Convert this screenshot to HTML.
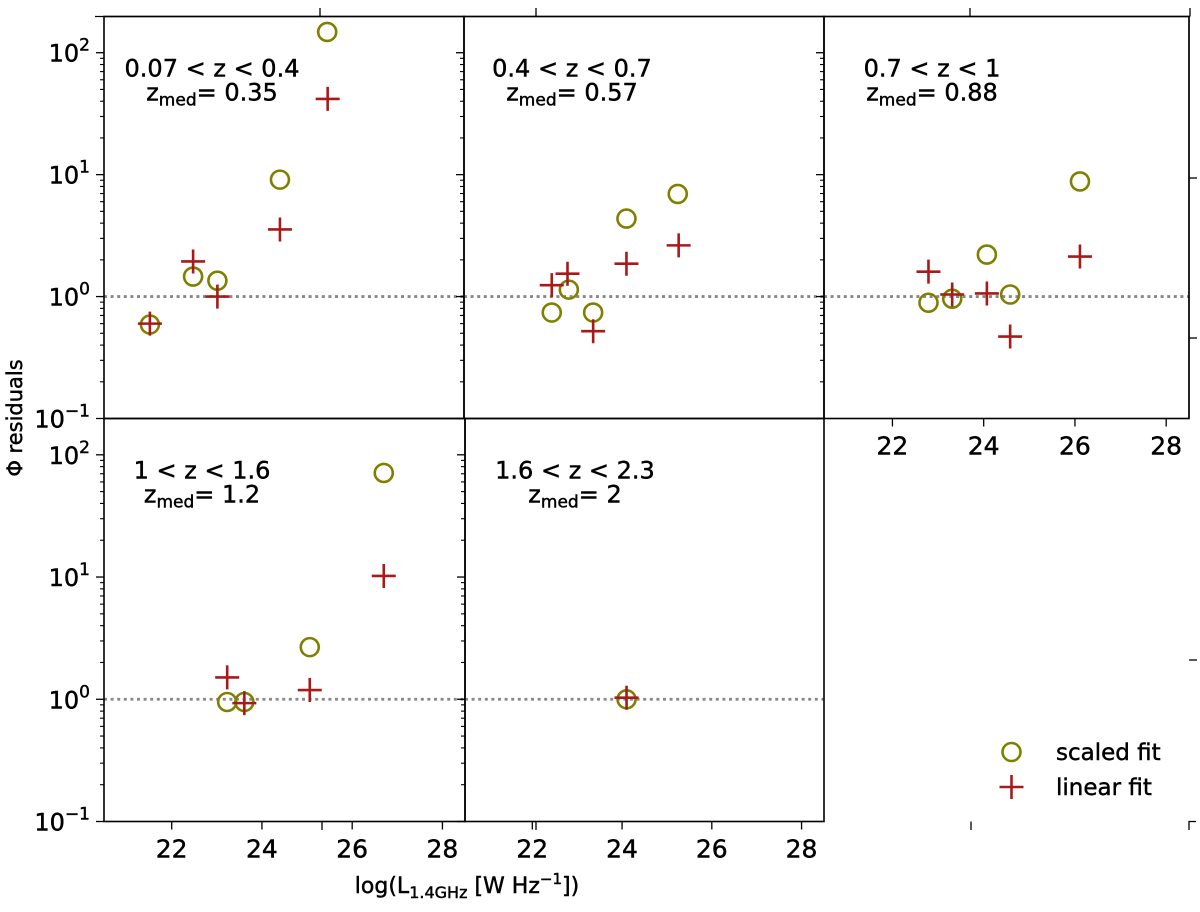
<!DOCTYPE html>
<html><head><meta charset="utf-8"><style>
html,body{margin:0;padding:0;background:#fff}
svg{display:block;font-family:"DejaVu Sans","Liberation Sans",sans-serif}
svg text{stroke:#000;stroke-width:0.45px}
</style></head><body>
<svg id="chart" width="1200" height="912" viewBox="0 0 1200 912" xmlns="http://www.w3.org/2000/svg"></svg>
<script>
const xTicks = [22, 24, 26, 28];
const xTickLabels = ["22", "24", "26", "28"];
const yDecades = [-1, 0, 1, 2];
const yTickLabels = ["10", "10", "10", "10"];
const yTickExps = ["\u22121", "0", "1", "2"];
const panelLabels = ["0.07 < z < 0.4", "0.4 < z < 0.7", "0.7 < z < 1", "1 < z < 1.6", "1.6 < z < 2.3"];
const panelZmed = ["0.35", "0.57", "0.88", "1.2", "2"];
const p1ScaledX = [21.52, 22.48, 23.02, 24.41, 25.46];
const p1ScaledY = [0.59, 1.46, 1.35, 9.1, 148];
const p1LinearX = [21.52, 22.48, 23.02, 24.41, 25.47];
const p1LinearY = [0.6, 1.94, 1.0, 3.55, 41.8];
const p2ScaledX = [22.45, 22.83, 23.37, 24.11, 25.25];
const p2ScaledY = [0.74, 1.14, 0.74, 4.36, 6.95];
const p2LinearX = [22.45, 22.80, 23.37, 24.11, 25.27];
const p2LinearY = [1.24, 1.54, 0.52, 1.86, 2.63];
const p3ScaledX = [22.79, 23.31, 24.07, 24.58, 26.11];
const p3ScaledY = [0.89, 0.96, 2.21, 1.04, 8.8];
const p3LinearX = [22.79, 23.31, 24.07, 24.58, 26.11];
const p3LinearY = [1.6, 1.04, 1.06, 0.47, 2.13];
const p4ScaledX = [23.23, 23.61, 25.06, 26.7];
const p4ScaledY = [0.95, 0.95, 2.67, 71];
const p4LinearX = [23.23, 23.61, 25.06, 26.7];
const p4LinearY = [1.51, 0.93, 1.19, 10.2];
const p5ScaledX = [24.1];
const p5ScaledY = [1.0];
const p5LinearX = [24.1];
const p5LinearY = [1.03];

const NS = "http://www.w3.org/2000/svg";
const svg = document.getElementById('chart');
function mk(tag, attrs, parent) {
  const e = document.createElementNS(NS, tag);
  for (const k in attrs) e.setAttribute(k, attrs[k]);
  (parent || svg).appendChild(e);
  return e;
}
const X0 = 20.5, X1 = 28.5, YMIN = -1, YMAX = 2.297;
const panels = [
  {x: 104, y: 16.5, w: 360, h: 402, lc: 108, sx: p1ScaledX, sy: p1ScaledY, lx: p1LinearX, ly: p1LinearY, xl: false},
  {x: 464, y: 16.5, w: 360, h: 402, lc: 108, sx: p2ScaledX, sy: p2ScaledY, lx: p2LinearX, ly: p2LinearY, xl: false},
  {x: 824, y: 16.5, w: 365, h: 402, lc: 108, sx: p3ScaledX, sy: p3ScaledY, lx: p3LinearX, ly: p3LinearY, xl: true},
  {x: 104, y: 418.5, w: 361, h: 403, lc: 98, sx: p4ScaledX, sy: p4ScaledY, lx: p4LinearX, ly: p4LinearY, xl: true},
  {x: 465, y: 418.5, w: 359, h: 403, lc: 110, sx: p5ScaledX, sy: p5ScaledY, lx: p5LinearX, ly: p5LinearY, xl: true}
];
const OLIVE = "#808000", RED = "#a81a1a";

panels.forEach((p, i) => {
  const g = mk('g', {});
  
  
  const xs = v => p.x + (v - X0) / (X1 - X0) * p.w;
  const ys = v => p.y + p.h - (Math.log10(v) - YMIN) / (YMAX - YMIN) * p.h;
  const ref = mk('line', {x1: p.x, x2: p.x + p.w, y1: ys(1), y2: ys(1), stroke: '#888', 'stroke-width': 2.8, 'stroke-dasharray': '3,3.6'}, g);
  
  
  yDecades.forEach((d, k) => {
    const yy = ys(Math.pow(10, d));
    mk('line', {x1: p.x - 8, x2: p.x, y1: yy, y2: yy, stroke: '#000', 'stroke-width': 1.3}, g);
    if (d < 2) for (let m = 2; m <= 9; m++) {
      const ym = ys(m * Math.pow(10, d));
      if (ym >= p.y) mk('line', {x1: p.x - 4, x2: p.x, y1: ym, y2: ym, stroke: '#000', 'stroke-width': 1.1}, g);
    }
    if (i === 0 || i === 3) {
      const t = mk('text', {x: 90, y: yy + 9, 'text-anchor': 'end', 'font-size': 24}, g);
      
      
      t.textContent = yTickLabels[k];
      const s = mk('tspan', {dy: -11, 'font-size': 17}, t);
      s.textContent = yTickExps[k];
    }
  });
  if (p.xl) xTicks.forEach((v, k) => {
    const xx = xs(v);
    mk('line', {x1: xx, x2: xx, y1: p.y + p.h, y2: p.y + p.h + 8, stroke: '#000', 'stroke-width': 1.3}, g);
    const t = mk('text', {x: xx, y: p.y + p.h + 36, 'text-anchor': 'middle', 'font-size': 25}, g);
    
    
    t.textContent = xTickLabels[k];
  });
  const fr = mk('rect', {x: p.x, y: p.y, width: p.w, height: p.h, fill: 'none', stroke: '#000', 'stroke-width': 1.6}, g);
  
  
  const cx = p.x + p.lc;
  const t1 = mk('text', {x: cx, y: p.y + 60, 'text-anchor': 'middle', 'font-size': 24}, g);
  
  
  t1.textContent = panelLabels[i];
  const t2 = mk('text', {x: cx, y: p.y + 84, 'text-anchor': 'middle', 'font-size': 24}, g);
  
  
  const a = mk('tspan', {}, t2); a.textContent = 'z';
  const b = mk('tspan', {dy: 5, 'font-size': 17}, t2); b.textContent = 'med';
  const c = mk('tspan', {dy: -5}, t2); c.textContent = '= ' + panelZmed[i];
  p.sx.forEach((v, k) => {
    const m = mk('circle', {cx: xs(v), cy: ys(p.sy[k]), r: 9, fill: 'none', stroke: OLIVE, 'stroke-width': 2.6}, g);
    
    
  });
  p.lx.forEach((v, k) => {
    const px = xs(v), py = ys(p.ly[k]);
    const m = mk('path', {d: `M${px-12},${py}H${px+12}M${px},${py-12}V${py+12}`, stroke: RED, 'stroke-width': 2.6, fill: 'none'}, g);
    
    
  });
});

const ov = mk('g', {stroke: '#000', 'stroke-width': 1.3});


mk('line', {x1: 95, x2: 1190, y1: 16.5, y2: 16.5}, ov);
mk('line', {x1: 1189, x2: 1189, y1: 16.5, y2: 418}, ov);
[320, 536, 970, 1190].forEach(x => mk('line', {x1: x, x2: x, y1: 16.5, y2: 8}, ov));
[178, 338, 660].forEach(y => mk('line', {x1: 1189, x2: 1197, y1: y, y2: y}, ov));
mk('line', {x1: 1189, x2: 1189, y1: 821, y2: 830}, ov);
mk('line', {x1: 1189, x2: 1196, y1: 821.5, y2: 821.5}, ov);
[322, 536, 971].forEach(x => mk('line', {x1: x, x2: x, y1: 821.5, y2: 830}, ov));

const yt = mk('text', {x: 0, y: 0, 'font-size': 21, 'text-anchor': 'middle', transform: 'translate(22,418) rotate(-90)'});


yt.textContent = '\u03A6 residuals';
const xt = mk('text', {x: 467, y: 893, 'font-size': 22, 'text-anchor': 'middle'});


const x1 = mk('tspan', {}, xt); x1.textContent = 'log(L';
const x2 = mk('tspan', {dy: 5, 'font-size': 16}, xt); x2.textContent = '1.4GHz';
const x3 = mk('tspan', {dy: -5}, xt); x3.textContent = ' [W Hz';
const x4 = mk('tspan', {dy: -9, 'font-size': 15}, xt); x4.textContent = '\u22121';
const x5 = mk('tspan', {dy: 9}, xt); x5.textContent = '])';

const lg = mk('g', {});


const lc = mk('circle', {cx: 1011.5, cy: 752, r: 9, fill: 'none', stroke: OLIVE, 'stroke-width': 2.6}, lg);


const lp = mk('path', {d: 'M999.5,787H1023.5M1011.5,775V799', stroke: RED, 'stroke-width': 2.6}, lg);


const l1 = mk('text', {x: 1056, y: 760, 'font-size': 23}, lg);


l1.textContent = 'scaled fit';
const l2 = mk('text', {x: 1056, y: 795, 'font-size': 23}, lg);


l2.textContent = 'linear fit';
</script>
</body></html>
